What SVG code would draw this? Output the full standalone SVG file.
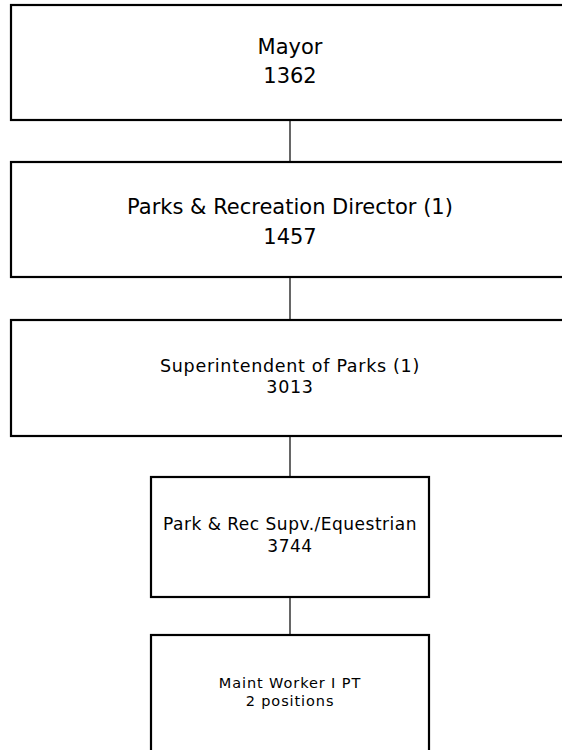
<svg xmlns="http://www.w3.org/2000/svg" width="562" height="750" viewBox="0 0 562 750">
<style>
.box{fill:#fff;stroke:#000;stroke-width:2.2}
.t{font-family:"DejaVu Sans",Verdana,sans-serif;fill:#000;text-anchor:middle}
.c{stroke:#000;stroke-width:1.2;fill:none}
</style>
<rect width="562" height="750" fill="#fff"/>
<g id="connectors">
<line class="c" x1="290" y1="120" x2="290" y2="162"/>
<line class="c" x1="290" y1="277" x2="290" y2="320"/>
<line class="c" x1="290" y1="436" x2="290" y2="477"/>
<line class="c" x1="290" y1="597" x2="290" y2="635"/>
</g>
<g id="mayor">
<rect class="box" x="11" y="5" width="558" height="115"/>
<text class="t" x="290" y="54" font-size="21">Mayor</text>
<text class="t" x="290" y="83" font-size="21">1362</text>
</g>
<g id="director">
<rect class="box" x="11" y="162" width="558" height="115"/>
<text class="t" x="290" y="214" font-size="21">Parks &amp; Recreation Director (1)</text>
<text class="t" x="290" y="244" font-size="21">1457</text>
</g>
<g id="superintendent">
<rect class="box" x="11" y="320" width="558" height="116"/>
<text class="t" x="290" y="372" font-size="17.5" letter-spacing="0.7">Superintendent of Parks (1)</text>
<text class="t" x="290" y="393" font-size="17.5" letter-spacing="0.7">3013</text>
</g>
<g id="supervisor">
<rect class="box" x="151" y="477" width="278" height="120"/>
<text class="t" x="290" y="530" font-size="17" letter-spacing="0.5">Park &amp; Rec Supv./Equestrian</text>
<text class="t" x="290" y="552" font-size="17" letter-spacing="0.5">3744</text>
</g>
<g id="maint">
<rect class="box" x="151" y="635" width="278" height="130"/>
<text class="t" x="290" y="688" font-size="14.5" letter-spacing="0.9">Maint Worker I PT</text>
<text class="t" x="290" y="706" font-size="14.5" letter-spacing="0.9">2 positions</text>
</g>
</svg>
